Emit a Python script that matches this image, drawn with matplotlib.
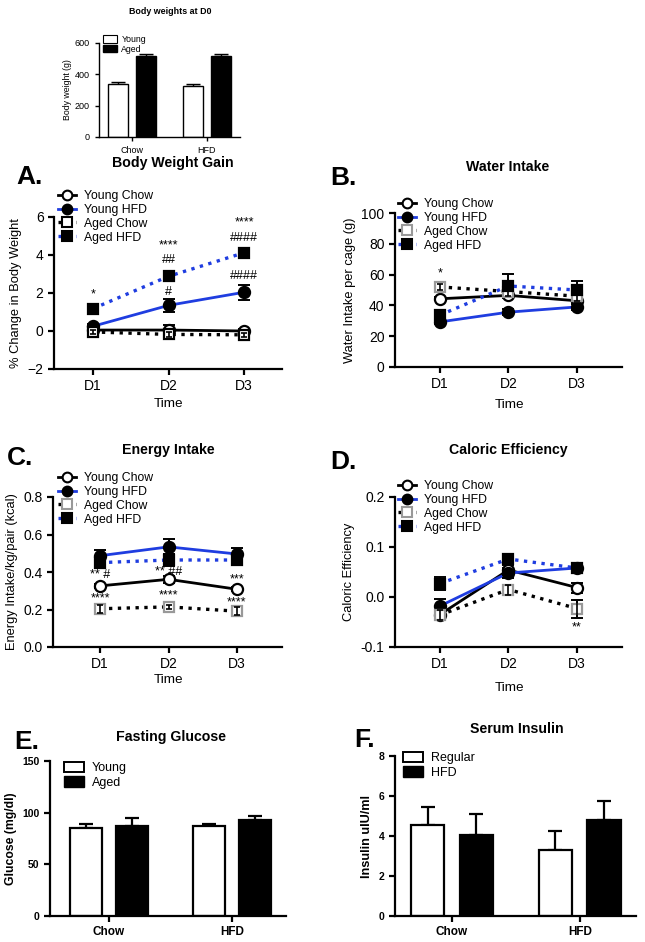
import matplotlib
matplotlib.use("Agg")
import matplotlib.pyplot as plt
from matplotlib.lines import Line2D
from matplotlib.patches import Patch
import numpy as np

plt.rcParams['font.family'] = ['Liberation Sans', 'DejaVu Sans']

W, H = 645, 942

# ---- data ----
days = ['D1', 'D2', 'D3']
groups = ['Young Chow', 'Young HFD', 'Aged Chow', 'Aged HFD']

# body weights at D0 (g)
bw0_young = [340, 328]
bw0_young_err = [10, 8]
bw0_aged = [515, 520]
bw0_aged_err = [15, 10]

# A. % change in body weight
gain_mean = {'Young Chow': [0.05, 0.05, 0.0],
             'Young HFD': [0.25, 1.35, 2.04],
             'Aged Chow': [-0.05, -0.18, -0.2],
             'Aged HFD': [1.18, 2.88, 4.12]}
gain_err = {'Young Chow': [0.05, 0.25, 0.1],
            'Young HFD': [0.1, 0.35, 0.4],
            'Aged Chow': [0.1, 0.15, 0.1],
            'Aged HFD': [0.1, 0.25, 0.25]}

# B. water intake per cage (g)
water_mean = {'Young Chow': [44.3, 46.5, 43.0],
              'Young HFD': [29.3, 35.6, 39.0],
              'Aged Chow': [52.0, 49.0, 46.0],
              'Aged HFD': [33.7, 52.6, 50.0]}
water_err = {'Young Chow': [1.0, 2.0, 2.0],
             'Young HFD': [1.5, 2.0, 2.0],
             'Aged Chow': [2.0, 3.0, 3.0],
             'Aged HFD': [2.0, 8.0, 6.0]}

# C. energy intake / kg / pair (kcal)
energy_mean = {'Young Chow': [0.326, 0.361, 0.308],
               'Young HFD': [0.487, 0.534, 0.496],
               'Aged Chow': [0.204, 0.214, 0.191],
               'Aged HFD': [0.45, 0.464, 0.464]}
energy_err = {'Young Chow': [0.01, 0.02, 0.01],
              'Young HFD': [0.03, 0.04, 0.03],
              'Aged Chow': [0.02, 0.01, 0.02],
              'Aged HFD': [0.03, 0.03, 0.02]}

# D. caloric efficiency
eff_mean = {'Young Chow': [-0.035, 0.054, 0.019],
            'Young HFD': [-0.018, 0.048, 0.058],
            'Aged Chow': [-0.036, 0.015, -0.023],
            'Aged HFD': [0.027, 0.076, 0.058]}
eff_err = {'Young Chow': [0.01, 0.01, 0.01],
           'Young HFD': [0.015, 0.01, 0.005],
           'Aged Chow': [0.01, 0.01, 0.018],
           'Aged HFD': [0.013, 0.005, 0.005]}

# E. fasting glucose (mg/dl)
diet_groups = ['Chow', 'HFD']
glu_young = [84.8, 87.4]
glu_young_err = [3.9, 1.6]
glu_aged = [87.1, 92.9]
glu_aged_err = [7.4, 3.6]

# F. serum insulin (uIU/ml)
ins_regular = [4.57, 3.28]
ins_regular_err = [0.87, 0.98]
ins_hfd = [4.06, 4.79]
ins_hfd_err = [1.03, 0.95]

# significance marks: (day index, y, text)
gain_marks = [(0, 1.95, '*'), (1, 4.5, '****'), (1, 3.75, '##'), (1, 2.05, '#'),
              (2, 5.7, '****'), (2, 4.9, '####'), (2, 2.9, '####')]
water_marks = [(0, 61, '*')]
energy_marks = [(0, 0.384, '** #'), (0, 0.257, '****'), (1, 0.402, '** ##'),
                (1, 0.274, '****'), (2, 0.363, '***'), (2, 0.239, '****')]
eff_marks = [(2, -0.061, '**')]


def px_axes(l, t, r, b):
    return fig.add_axes([l / W, 1 - b / H, (r - l) / W, (b - t) / H])


def fig_text(x, y, s, **kw):
    fig.text(x / W, 1 - y / H, s, **kw)


def style_axes(ax, lw=1.6):
    for s in ['top', 'right']:
        ax.spines[s].set_visible(False)
    for s in ['left', 'bottom']:
        ax.spines[s].set_linewidth(lw)
    ax.tick_params(width=lw, length=4, direction='out')


styles = {
    'Young Chow': dict(color='black', ls='-', marker='o', mfc='white', mec='black', ms=8),
    'Young HFD': dict(color='#1f3de0', ls='-', marker='o', mfc='black', mec='black', ms=8),
    'Aged Chow': dict(color='black', ls=':', marker='s', mfc='white', mec='#999999', ms=7.5),
    'Aged HFD': dict(color='#1f3de0', ls=':', marker='s', mfc='black', mec='black', ms=7.5),
}


def line_panel(ax, means, errs, ylim, yticks, marks, xlim, aged_edge='#999999'):
    x = np.arange(1, 4)
    for g in groups:
        st = dict(styles[g])
        if g == 'Aged Chow':
            st['mec'] = aged_edge
        lw = 2.4 if st['ls'] == ':' else 2.0
        ax.plot(x, means[g], color=st['color'], ls=st['ls'], lw=lw, zorder=2)
        ax.errorbar(x, means[g], yerr=errs[g], fmt='none', ecolor='black',
                    elinewidth=1.4, capsize=4, capthick=1.4, zorder=3)
        ax.plot(x, means[g], ls='none', marker=st['marker'], mfc=st['mfc'],
                mec=st['mec'], mew=1.6, ms=st['ms'], zorder=4)
        if g == 'Aged Chow':
            ax.errorbar(x, means[g], yerr=errs[g], fmt='none', ecolor='black',
                        elinewidth=1.2, capsize=2, capthick=1.2, zorder=5)
    for i, yv, s in marks:
        ax.text(x[i], yv, s, ha='center', va='center', fontsize=9)
    ax.set_xlim(*xlim)
    ax.set_ylim(*ylim)
    ax.set_yticks(yticks)
    ax.set_xticks(x)
    ax.set_xticklabels(days)
    style_axes(ax)
    ax.tick_params(labelsize=10)


def line_legend(ax, x, y, aged_edge='#999999'):
    hs = []
    for g in groups:
        st = dict(styles[g])
        if g == 'Aged Chow':
            st['mec'] = aged_edge
        lw = 2.4 if st['ls'] == ':' else 2.0
        hs.append(Line2D([], [], color=st['color'], ls=st['ls'], lw=lw, marker=st['marker'],
                         mfc=st['mfc'], mec=st['mec'], mew=1.5, ms=st['ms'] - 1))
    ax.legend(hs, groups, loc='upper left', bbox_to_anchor=(x / W, 1 - y / H),
              bbox_transform=fig.transFigure, frameon=False, fontsize=8.8,
              borderpad=0, borderaxespad=0, labelspacing=0.15, handlelength=1.5,
              handletextpad=0.6)


def bar_panel(ax, a, a_err, b, b_err, off, width, xlim, ylim, yticks, lw=1.6):
    x = np.arange(len(diet_groups))
    ax.bar(x - off, a, width, color='white', edgecolor='black', lw=lw, zorder=2)
    ax.bar(x + off, b, width, color='black', edgecolor='black', lw=lw, zorder=2)
    ax.errorbar(x - off, a, yerr=[np.zeros(2), a_err], fmt='none', ecolor='black',
                elinewidth=lw, capsize=5, capthick=lw, zorder=1)
    ax.errorbar(x + off, b, yerr=[np.zeros(2), b_err], fmt='none', ecolor='black',
                elinewidth=lw, capsize=5, capthick=lw, zorder=1)
    ax.set_xticks(x)
    ax.set_xticklabels(diet_groups)
    ax.set_xlim(*xlim)
    ax.set_ylim(*ylim)
    ax.set_yticks(yticks)
    style_axes(ax, lw)


fig = plt.figure(figsize=(W / 100, H / 100), dpi=100)

# ---- inset: body weights at D0 ----
ax0 = px_axes(99, 43, 240, 137)
bar_panel(ax0, bw0_young, bw0_young_err, bw0_aged, bw0_aged_err, 0.19, 0.267,
          (-0.44, 1.44), (0, 600), [0, 200, 400, 600], lw=1.0)
ax0.tick_params(labelsize=6.5, length=3)
ax0.set_ylabel('Body weight (g)', fontsize=6.3, labelpad=2)
ax0.legend([Patch(fc='white', ec='black', lw=0.8), Patch(fc='black', ec='black')],
           ['Young', 'Aged'], loc='upper left', bbox_to_anchor=(103 / W, 1 - 35 / H),
           bbox_transform=fig.transFigure, frameon=False, fontsize=6.3, borderpad=0,
           borderaxespad=0, labelspacing=0.1, handlelength=1.6, handleheight=0.9,
           handletextpad=0.5)
fig_text(170, 12, 'Body weights at D0', ha='center', va='center', fontsize=6.4,
         fontweight='bold')

# ---- A ----
axA = px_axes(54, 217, 282, 369)
line_panel(axA, gain_mean, gain_err, (-2, 6), [-2, 0, 2, 4, 6], gain_marks,
           (0.483, 3.5), aged_edge='black')
axA.set_ylabel('% Change in Body Weight', fontsize=9.3)
line_legend(axA, 58, 190, aged_edge='black')
fig_text(168, 404, 'Time', ha='center', va='center', fontsize=9.7)
fig_text(173, 163, 'Body Weight Gain', ha='center', va='center', fontsize=10.2,
         fontweight='bold')
fig_text(16, 177, 'A.', ha='left', va='center', fontsize=19, fontweight='bold')

# ---- B ----
axB = px_axes(395, 213, 622, 367)
line_panel(axB, water_mean, water_err, (0, 100), [0, 20, 40, 60, 80, 100], water_marks,
           (0.343, 3.66))
axB.set_ylabel('Water Intake per cage (g)', fontsize=9.3)
line_legend(axB, 398, 198)
fig_text(509, 405, 'Time', ha='center', va='center', fontsize=9.7)
fig_text(508, 167, 'Water Intake', ha='center', va='center', fontsize=10.2,
         fontweight='bold')
fig_text(330, 178, 'B.', ha='left', va='center', fontsize=19, fontweight='bold')

# ---- C ----
axC = px_axes(53, 497, 282, 647)
line_panel(axC, energy_mean, energy_err, (0, 0.8), [0, 0.2, 0.4, 0.6, 0.8], energy_marks,
           (0.31, 3.66))
axC.set_yticklabels(['0.0', '0.2', '0.4', '0.6', '0.8'])
axC.set_ylabel('Energy Intake/kg/pair (kcal)', fontsize=9.3)
line_legend(axC, 58, 472)
fig_text(168, 680, 'Time', ha='center', va='center', fontsize=9.7)
fig_text(168, 450, 'Energy Intake', ha='center', va='center', fontsize=10.2,
         fontweight='bold')
fig_text(7, 458, 'C.', ha='left', va='center', fontsize=19, fontweight='bold')

# ---- D ----
axD = px_axes(395, 497, 622, 647)
line_panel(axD, eff_mean, eff_err, (-0.1, 0.2), [-0.1, 0.0, 0.1, 0.2], eff_marks,
           (0.343, 3.66))
axD.set_yticklabels(['-0.1', '0.0', '0.1', '0.2'])
axD.set_ylabel('Caloric Efficiency', fontsize=9.3)
line_legend(axD, 398, 480)
fig_text(509, 688, 'Time', ha='center', va='center', fontsize=9.7)
fig_text(508, 450, 'Caloric Efficiency', ha='center', va='center', fontsize=10.2,
         fontweight='bold')
fig_text(330, 462, 'D.', ha='left', va='center', fontsize=19, fontweight='bold')

# ---- E ----
axE = px_axes(50, 761, 286, 916)
bar_panel(axE, glu_young, glu_young_err, glu_aged, glu_aged_err, 0.187, 0.26,
          (-0.48, 1.44), (0, 150), [0, 50, 100, 150])
axE.tick_params(axis='y', labelsize=7.5)
axE.tick_params(axis='x', labelsize=8.5)
for t in axE.get_xticklabels() + axE.get_yticklabels():
    t.set_fontweight('bold')
axE.set_ylabel('Glucose (mg/dl)', fontsize=8.8, fontweight='bold')
axE.legend([Patch(fc='white', ec='black', lw=1.4), Patch(fc='black', ec='black')],
           ['Young', 'Aged'], loc='upper left', bbox_to_anchor=(64 / W, 1 - 762 / H),
           bbox_transform=fig.transFigure, frameon=False, fontsize=9, borderpad=0,
           borderaxespad=0, labelspacing=0.15, handlelength=1.6, handleheight=0.9,
           handletextpad=0.6)
fig_text(171, 737, 'Fasting Glucose', ha='center', va='center', fontsize=10.2,
         fontweight='bold')
fig_text(14, 742, 'E.', ha='left', va='center', fontsize=19, fontweight='bold')

# ---- F ----
axF = px_axes(395, 756, 636, 916)
bar_panel(axF, ins_regular, ins_regular_err, ins_hfd, ins_hfd_err, 0.19, 0.26,
          (-0.445, 1.44), (0, 8), [0, 2, 4, 6, 8])
axF.tick_params(axis='y', labelsize=7.5)
axF.tick_params(axis='x', labelsize=8.5)
for t in axF.get_xticklabels() + axF.get_yticklabels():
    t.set_fontweight('bold')
axF.set_ylabel('Insulin uIU/ml', fontsize=9.2, fontweight='bold')
axF.legend([Patch(fc='white', ec='black', lw=1.4), Patch(fc='black', ec='black')],
           ['Regular', 'HFD'], loc='upper left', bbox_to_anchor=(403 / W, 1 - 752 / H),
           bbox_transform=fig.transFigure, frameon=False, fontsize=9, borderpad=0,
           borderaxespad=0, labelspacing=0.15, handlelength=1.6, handleheight=0.9,
           handletextpad=0.6)
fig_text(517, 729, 'Serum Insulin', ha='center', va='center', fontsize=10.2,
         fontweight='bold')
fig_text(354, 740, 'F.', ha='left', va='center', fontsize=19, fontweight='bold')

fig.savefig('out.png', dpi=100)
